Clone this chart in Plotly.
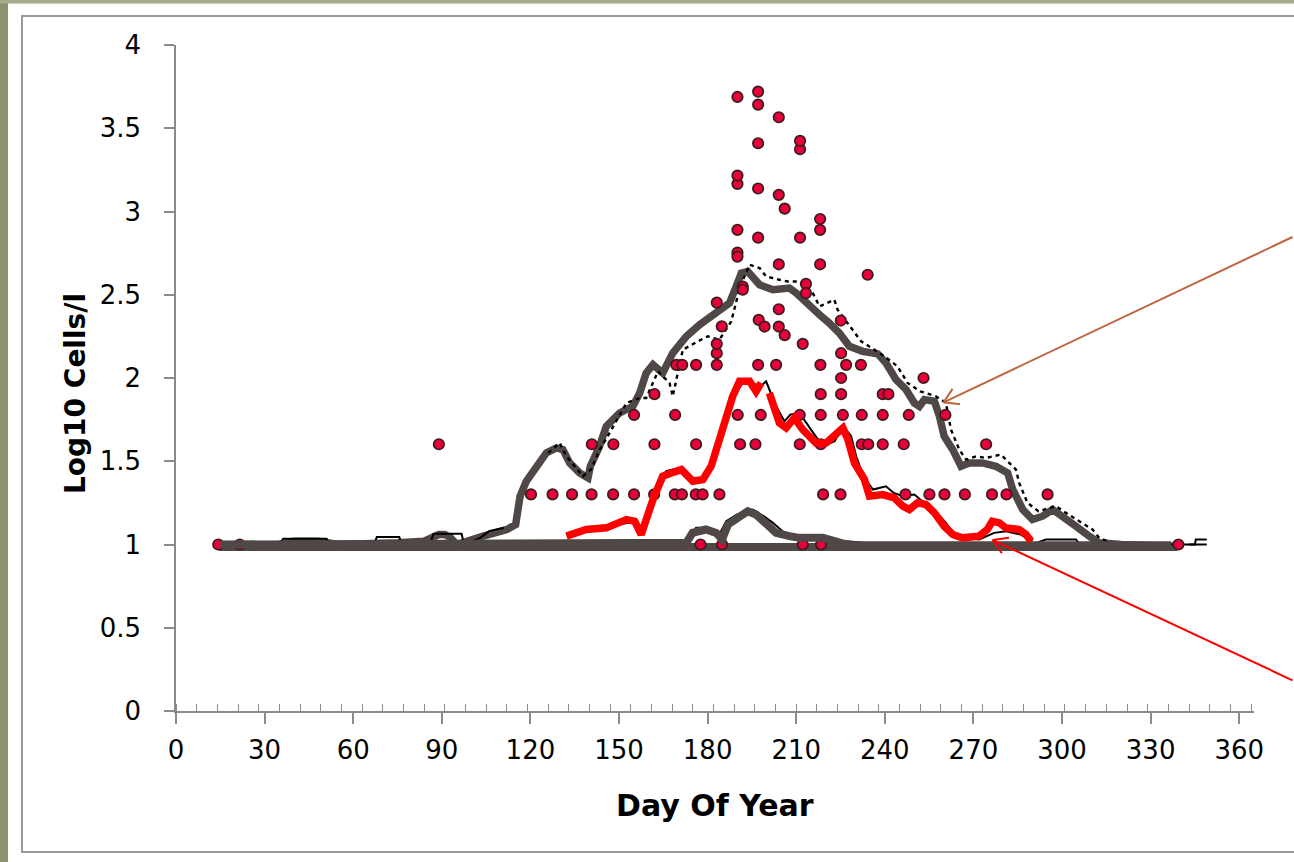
import math
import plotly.graph_objects as go

# ---------------- data ----------------
# scatter: observed samples (day of year, log10 cells/l)
obs_day = [14.3, 21.6, 177.6, 184.9, 212.2, 218.4, 339.4,
           120.2, 127.5, 134.1, 140.7, 148.0, 155.1, 161.9, 168.9, 171.3, 176.0, 178.3, 184.0, 219.1, 225.0,
           247.0, 255.1, 260.2, 267.1, 276.3, 281.2, 295.1,
           89.0, 140.8, 148.1, 162.0, 176.1, 191.0, 196.2, 211.2, 218.3, 232.2, 234.4, 239.3, 246.4, 274.3,
           155.1, 169.0, 190.2, 198.0, 211.2, 218.3, 225.8, 232.2, 239.3, 248.1, 260.5,
           162.0, 218.3, 225.2, 239.3, 241.2,
           225.2, 253.1,
           169.4, 171.4, 176.1, 183.1, 197.1, 203.2, 218.2, 226.9, 231.9,
           225.2, 183.1, 183.1, 212.2, 225.1, 184.8, 197.3, 199.3, 204.1, 206.1, 204.1, 183.1,
           191.9, 191.9, 213.3, 213.3, 234.2, 204.1, 218.1, 190.1, 190.1, 197.1, 211.3, 190.1, 218.1,
           218.1, 206.1, 204.1, 197.1, 190.1, 190.1, 211.3, 197.1, 211.3, 204.1, 197.1, 190.1, 197.1]
obs_val = [1.0] * 7 + \
          [1.301] * 21 + \
          [1.602] * 14 + \
          [1.778] * 11 + \
          [1.903] * 5 + \
          [2.0] * 2 + \
          [2.079] * 9 + \
          [2.149, 2.149, 2.205, 2.205, 2.345, 2.31, 2.349, 2.309, 2.309, 2.257, 2.413, 2.453,
           2.549, 2.53, 2.565, 2.51, 2.62, 2.683, 2.683, 2.753, 2.729, 2.843, 2.843, 2.89, 2.89,
           2.955, 3.017, 3.10, 3.138, 3.166, 3.216, 3.374, 3.41, 3.424, 3.566, 3.642, 3.688, 3.72]

# upper envelope (thick grey)
up_day = [15, 25, 35, 40, 48, 55, 65, 75, 84, 87, 89, 91, 93, 94.5, 95.5, 97, 100, 104, 108, 112, 115, 116.5, 118.6,
          122, 125.4, 128.8, 131, 133.3, 136.7, 139.5, 140.3, 143.4, 145.7, 150.2, 154.7, 157, 159.2, 161.5, 164.8,
          168.2, 172.8, 177.3, 181.8, 187.4, 189.7, 191.4, 193.6, 196.4, 197.6, 202.1, 207.7, 210, 213.4, 217.9,
          221.2, 224.6, 228, 232.5, 237.6, 240.4, 243.8, 247.2, 250, 251.7, 253.4, 256.8, 258.5, 260.1, 263, 265.8,
          268.6, 273.1, 277.6, 281.6, 283.3, 286.7, 290, 293.4, 296.8, 300.2, 304.7, 309.2, 312.6, 320, 330, 338]
up_val = [0.99, 0.99, 1.0, 1.02, 1.02, 1.0, 1.0, 1.01, 1.02, 1.04, 1.06, 1.06, 1.04, 1.01, 1.0, 1.01, 1.03, 1.05,
          1.07, 1.09, 1.12, 1.29, 1.38, 1.46, 1.55, 1.58, 1.57, 1.49, 1.43, 1.40, 1.47, 1.59, 1.71, 1.79, 1.83, 1.91,
          2.03, 2.08, 2.03, 2.15, 2.25, 2.32, 2.38, 2.45, 2.55, 2.63, 2.64, 2.59, 2.56, 2.53, 2.54, 2.51, 2.45, 2.38,
          2.33, 2.27, 2.19, 2.16, 2.145, 2.09, 1.99, 1.93, 1.85, 1.83, 1.87, 1.86, 1.77, 1.65, 1.57, 1.47, 1.49,
          1.49, 1.47, 1.43, 1.33, 1.21, 1.15, 1.17, 1.21, 1.17, 1.11, 1.05, 1.01, 1.0, 0.995, 0.99]

# lower envelope (thick grey)
lo_day = [15, 40, 70, 100, 130, 160, 172.8, 174.9, 179.4, 182.9, 184.9, 186.9, 190.8, 193.6, 196.4, 199.8, 203.2,
          207.7, 211, 219, 223.5, 226, 228, 250, 280, 310, 337]
lo_val = [1.0, 1.0, 1.0, 1.0, 1.0, 1.0, 1.01, 1.07, 1.09, 1.07, 1.03, 1.12, 1.17, 1.20, 1.18, 1.13, 1.07,
          1.05, 1.04, 1.04, 1.02, 1.0, 0.995, 0.995, 0.995, 0.995, 0.995]

# detection-limit baseline (thick grey)
base_day = [14.5, 339]
base_val = [0.985, 0.985]

# median (thick red); None = gap in the line
med_day = [132.2, 138.9, 145.7, 152.5, 155.3, 157.5, 161.5, 164.8, 167.7, 171.1, 175, 178.4, 181.2, 185.1, 188.5,
           190.8, 194.2, 196.4, 198.1, 199.2, 200.9, 204.3, 206.6, 209.4, 212.2, 216.7, 220.1, 225.8, 227.5, 229.7,
           233.1, 234.8, 239.3, 243.2, 246.1, 248.3, 251.1, 253.9, 256.8, 260.1, 263, 266.3, 271.9, 274.7, 276.4,
           278.8, 281, 285.5, 287.8, 289.5]
med_val = [1.05, 1.09, 1.10, 1.15, 1.14, 1.06, 1.27, 1.41, 1.43, 1.45, 1.38, 1.39, 1.47, 1.71, 1.89, 1.98, 1.98,
           1.92, 1.97, None, 1.91, 1.73, 1.70, 1.76, 1.69, 1.61, 1.61, 1.70, 1.63, 1.49, 1.39, 1.29, 1.30, 1.28, 1.23,
           1.21, 1.25, 1.24, 1.19, 1.11, 1.06, 1.04, 1.05, 1.09, 1.14, 1.13, 1.10, 1.09, 1.06, 1.02]

# thin dotted black (alternative upper estimate)
dot_day = [126, 129.9, 132.2, 135, 137.8, 140.5, 143.5, 146.8, 152.5, 157, 159.2, 163.2, 167.1, 168.2, 171.6, 176.7,
           180, 184, 188, 191, 194.2, 197.6, 199.8, 204.3, 207.2, 211.1, 215.6, 217.9, 222.9, 224, 228.6, 232, 236.5,
           239.9, 244.3, 247.7, 252, 257.3, 260.7, 262.4, 265.2, 267.5, 270.9, 274.2, 279.3, 284.4, 285.5, 288.3, 292,
           297.9, 301.3, 306.9, 310.3, 312.6, 318]
dot_val = [1.55, 1.61, 1.53, 1.47, 1.41, 1.45, 1.57, 1.67, 1.85, 1.88, 1.88, 2.04, 1.97, 1.89, 2.17, 2.22, 2.25, 2.23,
           2.34, 2.55, 2.68, 2.66, 2.61, 2.59, 2.58, 2.58, 2.51, 2.43, 2.47, 2.41, 2.30, 2.22, 2.17, 2.13, 2.07, 1.97,
           1.92, 1.89, 1.85, 1.69, 1.57, 1.51, 1.53, 1.52, 1.54, 1.45, 1.37, 1.25, 1.20, 1.23, 1.19, 1.13, 1.09, 1.04,
           1.0]

# thin solid black (alternative median estimate)
sol_day = [150, 155.8, 158, 161, 164, 166, 170.5, 174, 177, 179.5, 182.9, 186, 189, 192, 195, 198, 199.8, 203.2, 206,
           208, 211.1, 215, 219, 223, 226, 228.6, 230.3, 233, 236, 240.4, 243, 246.1, 250, 252, 255.6, 260.7, 263, 266,
           272, 277, 281, 286, 290]
sol_val = [1.12, 1.14, 1.07, 1.25, 1.39, 1.44, 1.46, 1.41, 1.38, 1.40, 1.53, 1.72, 1.90, 1.97, 1.97, 1.95, 1.98, 1.83,
           1.74, 1.78, 1.79, 1.69, 1.59, 1.62, 1.71, 1.65, 1.53, 1.40, 1.33, 1.35, 1.31, 1.29, 1.30, 1.27, 1.23, 1.13,
           1.07, 1.04, 1.03, 1.07, 1.08, 1.06, 1.02]

# thin solid black near the detection limit (alternative lower estimate)
low_thin_day = [15, 35, 36.3, 51, 52, 67, 68, 75.6, 76.5, 86, 87.2, 96.7, 97.5, 103, 106, 111, None,
                172, 176.1, 180, 184, 186.3, 190, 195.3, 199, 202.1, 206.6, 212, 220, 240, 290, 294.5, 304.7, 306,
                320, 349, None, 343, 345, 345.3, 349]
low_thin_val = [1.0, 1.0, 1.035, 1.035, 1.0, 1.0, 1.045, 1.045, 1.0, 1.0, 1.065, 1.065, 1.0, 1.04, 1.08, 1.10, None,
                1.0, 1.10, 1.10, 1.06, 1.14, 1.18, 1.21, 1.17, 1.13, 1.06, 1.04, 1.03, 1.0, 1.0, 1.03, 1.03, 1.0,
                1.0, 1.0, None, 1.0, 1.0, 1.03, 1.03]

x_ticks = [0, 30, 60, 90, 120, 150, 180, 210, 240, 270, 300, 330, 360]
y_ticks = [0, 0.5, 1, 1.5, 2, 2.5, 3, 3.5, 4]

# ---------------- figure ----------------
GREY = "#504846"
FONT = "DejaVu Sans"
fig = go.Figure()
fig.add_trace(go.Scatter(x=base_day, y=base_val, mode="lines", line=dict(color=GREY, width=8)))
fig.add_trace(go.Scatter(x=up_day, y=up_val, mode="lines", line=dict(color=GREY, width=7.5)))
fig.add_trace(go.Scatter(x=dot_day, y=dot_val, mode="lines", line=dict(color="black", width=2.4, dash="4px,4px")))
fig.add_trace(go.Scatter(x=sol_day, y=sol_val, mode="lines", line=dict(color="black", width=2)))
fig.add_trace(go.Scatter(x=low_thin_day, y=low_thin_val, mode="lines", line=dict(color="black", width=2)))
fig.add_trace(go.Scatter(x=obs_day, y=obs_val, mode="markers",
                         marker=dict(size=10.5, color="#e8003a", line=dict(color="#3a1c1c", width=1.7))))
fig.add_trace(go.Scatter(x=lo_day, y=lo_val, mode="lines", line=dict(color=GREY, width=8)))
fig.add_trace(go.Scatter(x=med_day, y=med_val, mode="lines", line=dict(color="#ff0000", width=7.5),
                         connectgaps=False))

L, R, T, B = 176, 40, 45, 151
W, H = 1294, 862
pw, ph = W - L - R, H - T - B


def px(xp):
    return (xp - L) / pw


def py(yp):
    return (H - B - yp) / ph


shapes = [
    dict(type="rect", xref="paper", yref="paper", x0=px(-5), x1=px(W + 5), y0=py(H + 5), y1=py(-5),
         fillcolor="#8d9270", line=dict(width=0), layer="below"),
    dict(type="rect", xref="paper", yref="paper", x0=px(0), x1=px(W + 5), y0=py(3.5), y1=py(-5),
         fillcolor="#a8ac8c", line=dict(width=0), layer="below"),
    dict(type="rect", xref="paper", yref="paper", x0=px(8), x1=px(W + 5), y0=py(H + 5), y1=py(3.5),
         fillcolor="white", line=dict(width=0), layer="below"),
    dict(type="rect", xref="paper", yref="paper", x0=px(22), x1=px(W + 20), y0=py(852), y1=py(16),
         fillcolor="rgba(0,0,0,0)", line=dict(color="#9a9a9a", width=2), layer="below"),
]

annotations = [
    dict(text="<b>Log10 Cells/l</b>", xref="paper", yref="paper", x=px(75), y=py(394), showarrow=False,
         textangle=-90, xanchor="center", yanchor="middle",
         font=dict(family=FONT, size=28, color="black")),
    dict(text="<b>Day Of Year</b>", xref="paper", yref="paper", x=px(715), y=py(805), showarrow=False,
         xanchor="center", yanchor="middle", font=dict(family=FONT, size=30, color="black")),
]


def arrow(x, y, ax, ay, color):
    out = [dict(x=x, y=y, xref="x", yref="y", ax=ax, ay=ay, text="", showarrow=True, arrowhead=0,
                arrowwidth=2, arrowcolor=color, standoff=0)]
    ang = math.atan2(ay, ax)
    for d in (0.55, -0.55):
        out.append(dict(x=x, y=y, xref="x", yref="y", ax=18 * math.cos(ang + d), ay=18 * math.sin(ang + d),
                        text="", showarrow=True, arrowhead=0, arrowwidth=2, arrowcolor=color, standoff=0))
    return out


annotations += arrow(259.9, 1.854, 360, -166, "#c0643f")
annotations += arrow(276.5, 1.027, 320, 141, "#ff0000")

fig.update_layout(
    width=W, height=H, margin=dict(l=L, r=R, t=T, b=B),
    paper_bgcolor="white", plot_bgcolor="rgba(0,0,0,0)",
    showlegend=False, shapes=shapes, annotations=annotations,
    xaxis=dict(range=[0, 365], tickvals=x_ticks, ticks="outside", ticklen=11, tickwidth=1.5, tickcolor="#8a8a8a",
               showline=True, linecolor="#8a8a8a", linewidth=1.5, showgrid=False, zeroline=False,
               ticklabelstandoff=4, tickfont=dict(family=FONT, size=26, color="black"),
               minor=dict(tick0=0, dtick=7, ticks="inside", ticklen=7, tickwidth=1.3, tickcolor="#8a8a8a",
                          showgrid=False)),
    yaxis=dict(range=[0, 4], tickvals=y_ticks, ticks="outside", ticklen=10, tickwidth=1.5, tickcolor="#8a8a8a",
               showline=True, linecolor="#8a8a8a", linewidth=1.5, showgrid=False, zeroline=False,
               ticklabelstandoff=18, tickfont=dict(family=FONT, size=26, color="black")),
)

fig.write_html("out.html")
